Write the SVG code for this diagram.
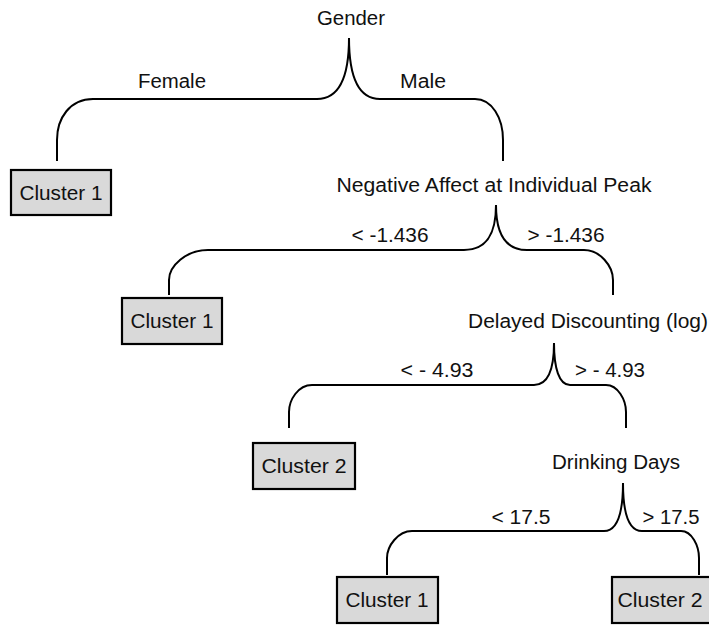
<svg xmlns="http://www.w3.org/2000/svg" width="709" height="626" viewBox="0 0 709 626">
<style>
text{font-family:"Liberation Sans","Open Sans",sans-serif;font-size:20px;fill:#111;text-anchor:middle}
.b{fill:none;stroke:#000;stroke-width:2}
.leaf{fill:#d9d9d9;stroke:#000;stroke-width:2.2}
</style>
<rect width="709" height="626" fill="#fff"/>
<g id="connectors">
<path class="b" d="M349,38 C349,72 342,99 317,99 L93,99 C70,99 57,118 57,140 L57,161"/>
<path class="b" d="M349,38 C349,72 356,99 380,99 L475,99 C492,99 503,118 503,140 L503,161"/>
<path class="b" d="M496,205 C496,232 488,250 464,250 L208,250 C186,250 169,266 169,280 L169,295"/>
<path class="b" d="M496,205 C496,232 504,250 527,250 L584,250 C600,250 613,266 613,280 L613,295"/>
<path class="b" d="M554,343 C554,368 549,385 534,385 L312,385 C298,385 289,400 289,412 L289,428"/>
<path class="b" d="M554,343 C554,368 559,385 570,385 L606,385 C618,385 626,400 626,412 L626,428"/>
<path class="b" d="M623,483 C623,510 619,531 604,531 L412,531 C398,531 387,546 387,558 L387,575"/>
<path class="b" d="M623,483 C623,510 628,531 642,531 L681,531 C692,531 699,546 699,558 L699,575"/>
</g>
<g id="gender"><text x="351" y="25" textLength="68" lengthAdjust="spacingAndGlyphs">Gender</text></g>
<g id="lbl-female"><text x="172" y="88" textLength="68" lengthAdjust="spacingAndGlyphs">Female</text></g>
<g id="lbl-male"><text x="423" y="88" textLength="46" lengthAdjust="spacingAndGlyphs">Male</text></g>
<g id="leaf1"><rect class="leaf" x="11" y="170" width="100" height="45"/><text x="61" y="200" textLength="83" lengthAdjust="spacingAndGlyphs">Cluster 1</text></g>
<g id="negaff"><text x="494" y="192" textLength="315" lengthAdjust="spacingAndGlyphs">Negative Affect at Individual Peak</text></g>
<g id="lbl-lt1"><text x="390" y="242" textLength="77" lengthAdjust="spacingAndGlyphs">&lt; -1.436</text></g>
<g id="lbl-gt1"><text x="566" y="242" textLength="77" lengthAdjust="spacingAndGlyphs">&gt; -1.436</text></g>
<g id="leaf2"><rect class="leaf" x="122" y="298" width="100" height="46"/><text x="172" y="328" textLength="83" lengthAdjust="spacingAndGlyphs">Cluster 1</text></g>
<g id="delay"><text x="588" y="328" textLength="240" lengthAdjust="spacingAndGlyphs">Delayed Discounting (log)</text></g>
<g id="lbl-lt2"><text x="437" y="377" textLength="73" lengthAdjust="spacingAndGlyphs">&lt; - 4.93</text></g>
<g id="lbl-gt2"><text x="610" y="377" textLength="70" lengthAdjust="spacingAndGlyphs">&gt; - 4.93</text></g>
<g id="leaf3"><rect class="leaf" x="253" y="443" width="102" height="46"/><text x="304" y="473" textLength="85" lengthAdjust="spacingAndGlyphs">Cluster 2</text></g>
<g id="drink"><text x="616" y="469" textLength="128" lengthAdjust="spacingAndGlyphs">Drinking Days</text></g>
<g id="lbl-lt3"><text x="521" y="524" textLength="59" lengthAdjust="spacingAndGlyphs">&lt; 17.5</text></g>
<g id="lbl-gt3"><text x="671" y="524" textLength="57" lengthAdjust="spacingAndGlyphs">&gt; 17.5</text></g>
<g id="leaf4"><rect class="leaf" x="337" y="577" width="101" height="46"/><text x="387" y="607" textLength="83" lengthAdjust="spacingAndGlyphs">Cluster 1</text></g>
<g id="leaf5"><rect class="leaf" x="612" y="577" width="100" height="46"/><text x="660" y="607" textLength="85" lengthAdjust="spacingAndGlyphs">Cluster 2</text></g>
</svg>
